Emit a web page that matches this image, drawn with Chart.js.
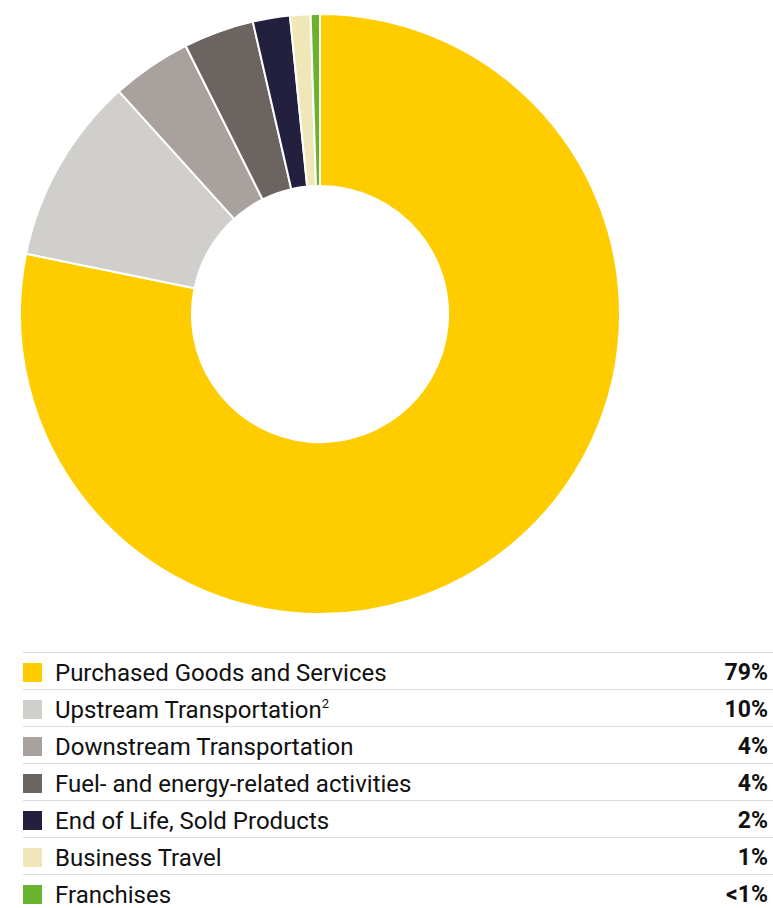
<!DOCTYPE html>
<html>
<head>
<meta charset="utf-8">
<script src="https://cdn.jsdelivr.net/npm/chart.js@4"></script>
<style>
    html, body { margin: 0; padding: 0; background: #ffffff; }
    body { width: 773px; height: 908px; position: relative; overflow: hidden; font-family: 'Roboto', sans-serif; }
    #chartWrap { position: absolute; left: 19px; top: 13px; width: 602px; height: 602px; }
    #legend { position: absolute; left: 23px; top: 652px; width: 750px; border-collapse: collapse; }
    #legend td { border-top: 1.5px solid #dcdcdc; height: 36px; padding: 0; font-size: 24px; line-height: 36px; color: #111; }
    #legend td.txt, #legend td.pct { position: relative; top: 2px; }
    #legend .sw { width: 32px; }
    #legend .sw span { display: inline-block; width: 19px; height: 19px; vertical-align: middle; }
    #legend .pct { text-align: right; font-weight: bold; font-size: 23px; padding-right: 5px; }
    sup { font-size: 13px; vertical-align: 10px; line-height: 0; }
</style>
</head>
<body>
<div id="chartWrap"><canvas id="scopeChart"></canvas></div>
<table id="legend"></table>
<script>
// Scope 3 categories, clockwise from 12 o'clock
const categories = [
    'Purchased Goods and Services',
    'Upstream Transportation',
    'Downstream Transportation',
    'Fuel- and energy-related activities',
    'End of Life, Sold Products',
    'Business Travel',
    'Franchises'
];
const footnotes = ['', '2', '', '', '', '', ''];
const shares = [78.3, 10.1, 4.3, 3.8, 2.0, 1.1, 0.5];
const shareLabels = ['79%', '10%', '4%', '4%', '2%', '1%', '<1%'];
const colors = ['#ffcc00', '#d0cfcc', '#a9a19d', '#6c6461', '#231f3f', '#f0e7b9', '#6ab42d'];

function buildLegend() {
    const table = document.getElementById('legend');
    categories.forEach((name, i) => {
        const row = document.createElement('tr');
        const sup = footnotes[i] ? '<sup>' + footnotes[i] + '</sup>' : '';
        row.innerHTML =
            '<td class="sw"><span style="background:' + colors[i] + '"></span></td>' +
            '<td class="txt">' + name + sup + '</td>' +
            '<td class="pct">' + shareLabels[i] + '</td>';
        table.appendChild(row);
    });
}

function initScopeChart(canvasId) {
    const ctx = document.getElementById(canvasId);
    if (!ctx) {
        console.error(`Canvas element with ID '${canvasId}' not found`);
        return;
    }
    window.scopeChart = new Chart(ctx, {
        type: 'doughnut',
        data: {
            labels: categories,
            datasets: [{
                data: shares,
                backgroundColor: colors,
                borderColor: '#ffffff',
                borderWidth: 2
            }]
        },
        options: {
            responsive: true,
            maintainAspectRatio: false,
            animation: false,
            cutout: '42.7%',
            layout: { padding: 0 },
            plugins: {
                legend: { display: false },
                tooltip: { enabled: false }
            }
        }
    });
}

buildLegend();
initScopeChart('scopeChart');
</script>
</body>
</html>
